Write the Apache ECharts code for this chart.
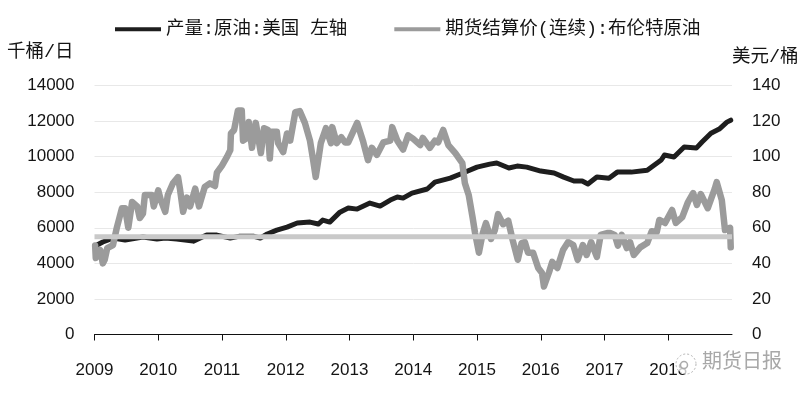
<!DOCTYPE html>
<html>
<head>
<meta charset="utf-8">
<style>html,body{margin:0;padding:0;background:#fff}#c{width:807px;height:395px}</style>
<script src="https://cdn.jsdelivr.net/npm/echarts@6/dist/echarts.min.js"></script>
</head>
<body>
<div id="c"></div>
<script>
const yearTicks = [2009,2010,2011,2012,2013,2014,2015,2016,2017,2018];
const usName = '产量:原油:美国 左轴';
const brentName = '期货结算价(连续):布伦特原油';
const leftTitle = '千桶/日';
const rightTitle = '美元/桶';
const watermark = '期货日报';
const referenceLevel = 5500;

const usYears = [2009.04,2009.13,2009.29,2009.48,2009.76,2009.98,2010.11,2010.29,2010.55,2010.76,2010.92,2011.13,2011.28,2011.49,2011.60,2011.71,2011.86,2012.02,2012.18,2012.38,2012.51,2012.58,2012.69,2012.85,2012.98,2013.12,2013.32,2013.48,2013.64,2013.75,2013.84,2013.98,2014.22,2014.34,2014.58,2014.78,2015.00,2015.20,2015.31,2015.50,2015.63,2015.78,2016.00,2016.21,2016.36,2016.52,2016.65,2016.74,2016.88,2017.07,2017.20,2017.42,2017.67,2017.89,2017.94,2018.09,2018.25,2018.44,2018.53,2018.67,2018.80,2018.92,2018.98];
const usOutput = [5030,5200,5420,5310,5480,5370,5420,5370,5250,5590,5590,5420,5530,5530,5420,5650,5870,6040,6270,6320,6210,6430,6320,6880,7110,7050,7390,7220,7560,7730,7670,7950,8180,8570,8790,9080,9410,9580,9640,9360,9470,9410,9190,9080,8850,8630,8630,8460,8850,8790,9130,9130,9240,9810,10090,9980,10540,10480,10820,11320,11550,11940,12050];

const brentYears = [2009.01,2009.02,2009.09,2009.13,2009.16,2009.20,2009.29,2009.35,2009.43,2009.48,2009.53,2009.59,2009.67,2009.71,2009.76,2009.79,2009.90,2009.93,2010.00,2010.04,2010.11,2010.15,2010.23,2010.31,2010.34,2010.39,2010.45,2010.50,2010.58,2010.64,2010.73,2010.81,2010.89,2010.92,2011.00,2011.08,2011.13,2011.14,2011.19,2011.25,2011.31,2011.33,2011.39,2011.42,2011.47,2011.53,2011.56,2011.61,2011.66,2011.72,2011.75,2011.78,2011.86,2011.88,2011.96,2012.02,2012.07,2012.15,2012.22,2012.30,2012.38,2012.43,2012.47,2012.51,2012.55,2012.63,2012.71,2012.73,2012.80,2012.87,2012.93,2012.98,2013.12,2013.21,2013.29,2013.35,2013.43,2013.53,2013.64,2013.67,2013.75,2013.84,2013.92,2014.00,2014.11,2014.15,2014.26,2014.34,2014.39,2014.47,2014.55,2014.66,2014.77,2014.81,2014.87,2014.93,2014.97,2015.03,2015.09,2015.14,2015.22,2015.28,2015.33,2015.41,2015.49,2015.56,2015.64,2015.70,2015.75,2015.80,2015.88,2015.96,2016.02,2016.05,2016.13,2016.18,2016.26,2016.35,2016.43,2016.51,2016.58,2016.66,2016.72,2016.79,2016.88,2016.94,2017.04,2017.09,2017.16,2017.21,2017.27,2017.35,2017.40,2017.46,2017.56,2017.67,2017.74,2017.82,2017.86,2017.95,2018.06,2018.12,2018.22,2018.31,2018.39,2018.45,2018.51,2018.62,2018.73,2018.76,2018.84,2018.89,2018.97,2018.98];
const brentPrices = [50,43,47.5,40,42,48.6,50.3,60,71,71,60,74.5,72,65.5,68,78.4,78.4,72,81,75.6,69,78.4,85,88.5,82,69,77,72,82,72,83,85,83.5,91,95,100,103.7,113,115,126,126,109,110.5,119.5,105,119,119,102,116,115,99,114,114,107.6,102.6,113,109,125,125.6,119,109,98,88.5,98,107.6,116,107.6,116.6,107.6,111,108,108,119,109,98,105,101,108,109,116.6,109,104,112,110,106.5,110.5,105,109,108,115,106.5,102,96.4,85,78.4,66,57,46,57,62.6,53.7,58.7,67.7,62,64,53,42,51.4,52,46,46,37.4,34.6,27,35,40.8,37.4,47.5,52,50.3,42,50.3,44.7,52,43.6,56,57,57,56,50,56,48.6,52,44.7,49,51.4,58,57.6,64.4,62.7,70,62.7,66,74.5,79.5,72.8,79,71,82,85.7,75.6,58.7,60,49];

const pairs = (xs, ys) => xs.map((x, i) => [x, ys[i]]);
const textColor = '#141414';
const numFont = '"Liberation Sans",Arial,sans-serif';
const cjkFont = '"Liberation Mono","Noto Sans CJK SC",sans-serif';

const chart = echarts.init(document.getElementById('c'), null, {renderer: 'canvas'});
chart.setOption({
  animation: false,
  backgroundColor: '#fff',
  grid: {left: 94.5, right: 75, top: 85.5, height: 249},
  legend: {
    left: 110, top: 15, itemWidth: 46, itemHeight: 4, itemGap: 47, icon: 'rect',
    data: [usName, brentName],
    textStyle: {fontFamily: cjkFont, fontSize: 18.5, color: textColor}
  },
  xAxis: {
    type: 'value', min: 2009, max: 2019, interval: 1,
    splitLine: {show: false},
    axisLine: {lineStyle: {color: '#111', width: 1}},
    axisTick: {show: true, length: 6, customValues: yearTicks, lineStyle: {color: '#111', width: 1}},
    axisLabel: {customValues: yearTicks, formatter: v => String(v), margin: 27, fontFamily: numFont, fontSize: 17, color: textColor}
  },
  yAxis: [
    {
      type: 'value', min: 0, max: 14000, interval: 2000,
      name: leftTitle, nameGap: 24,
      nameTextStyle: {fontFamily: cjkFont, fontSize: 18.5, color: textColor, align: 'right', padding: [0, 21, 0, 0]},
      axisLine: {show: false}, axisTick: {show: false},
      splitLine: {lineStyle: {color: '#e8e8e8', width: 1}},
      axisLabel: {margin: 20, formatter: v => String(v), fontFamily: numFont, fontSize: 17, color: textColor}
    },
    {
      type: 'value', min: 0, max: 140, interval: 20,
      name: rightTitle, nameGap: 19,
      nameTextStyle: {fontFamily: cjkFont, fontSize: 18.5, color: textColor, align: 'left'},
      axisLine: {show: false}, axisTick: {show: false}, splitLine: {show: false},
      axisLabel: {margin: 20, fontFamily: numFont, fontSize: 17, color: textColor}
    }
  ],
  series: [
    {name: usName, type: 'line', yAxisIndex: 0, showSymbol: false, z: 2,
     data: pairs(usYears, usOutput),
     itemStyle: {color: '#1e1e1e'},
     lineStyle: {color: '#1e1e1e', width: 5, cap: 'round', join: 'round'}},
    {name: brentName, type: 'line', yAxisIndex: 1, showSymbol: false, z: 3,
     data: pairs(brentYears, brentPrices),
     itemStyle: {color: '#9b9b9b'},
     lineStyle: {color: '#9b9b9b', width: 6.5, cap: 'round', join: 'round'}},
    {name: 'level', type: 'line', yAxisIndex: 0, showSymbol: false, z: 4, silent: true,
     data: [[2009, referenceLevel], [2019, referenceLevel]],
     lineStyle: {color: '#c9c9c9', width: 5}}
  ],
  graphic: [
    {type: 'circle', z: 100, shape: {cx: 686, cy: 364, r: 10}, style: {fill: 'rgba(255,255,255,0.75)', stroke: '#b5b5b5', lineWidth: 1, lineDash: [2, 2]}},
    {type: 'circle', z: 101, shape: {cx: 684, cy: 365, r: 3.5}, style: {fill: '#fff', stroke: '#aaa', lineWidth: 1.5}},
    {type: 'text', z: 100, left: 702, top: 350, style: {text: watermark, fill: '#a8a8a8', font: '20px "Noto Sans CJK SC",sans-serif'}}
  ]
});
</script>
</body>
</html>
